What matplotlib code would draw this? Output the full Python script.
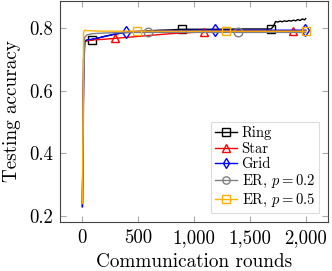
import matplotlib
matplotlib.use("Agg")
import matplotlib.pyplot as plt
from matplotlib.ticker import FuncFormatter

# --- Data ---
rounds = [0, 10, 20, 40, 90, 190, 290, 390, 490, 590, 690, 790, 890, 990,
          1090, 1190, 1290, 1390, 1490, 1590, 1690, 1790, 1890, 1990, 2000]

ring_rounds = [0, 10, 20, 40, 90, 190, 290, 390, 490, 590, 690, 790, 890, 990,
               1090, 1190, 1290, 1390, 1490, 1590, 1690, 1710, 1730, 1750, 1770,
               1790, 1810, 1830, 1850, 1870, 1890, 1910, 1930, 1950, 1970, 1990, 2000]
ring = [0.23, 0.70, 0.755, 0.760, 0.762, 0.773, 0.780, 0.786, 0.789, 0.791,
        0.793, 0.794, 0.796, 0.796, 0.796, 0.796, 0.796, 0.797, 0.797, 0.797,
        0.797, 0.805, 0.821, 0.819, 0.822, 0.820, 0.823, 0.821, 0.824, 0.822,
        0.825, 0.823, 0.827, 0.824, 0.829, 0.826, 0.830]
star = [0.23, 0.62, 0.755, 0.760, 0.762, 0.764, 0.767, 0.770, 0.773, 0.776,
        0.779, 0.782, 0.784, 0.786, 0.787, 0.788, 0.789, 0.790, 0.790, 0.790,
        0.791, 0.791, 0.791, 0.791, 0.791]
grid = [0.23, 0.65, 0.758, 0.762, 0.765, 0.772, 0.781, 0.787, 0.789, 0.790,
        0.791, 0.792, 0.792, 0.793, 0.793, 0.793, 0.793, 0.793, 0.793, 0.793,
        0.793, 0.793, 0.793, 0.793, 0.793]
er02 = [0.24, 0.55, 0.770, 0.778, 0.782, 0.784, 0.785, 0.785, 0.786, 0.786,
        0.786, 0.786, 0.786, 0.786, 0.786, 0.786, 0.786, 0.786, 0.786, 0.786,
        0.786, 0.786, 0.786, 0.786, 0.786]
er05 = [0.24, 0.785, 0.793, 0.792, 0.791, 0.790, 0.790, 0.790, 0.790, 0.790,
        0.790, 0.790, 0.790, 0.790, 0.790, 0.790, 0.790, 0.790, 0.790, 0.790,
        0.790, 0.790, 0.790, 0.790, 0.790]

# --- Style ---
plt.rcParams['font.family'] = ['cmr10']
plt.rcParams['mathtext.fontset'] = 'cm'
plt.rcParams['axes.formatter.use_mathtext'] = True

fig = plt.figure(figsize=(3.32, 2.71), dpi=100)
ax = fig.add_axes([0.181, 0.181, 0.807, 0.815])

ms = 6.2
ax.plot(ring_rounds, ring, color='black', lw=1, marker='s', ms=ms, mfc='none',
        mew=1, markevery=[4, 12, 20], label='Ring')
ax.plot(rounds, star, color='red', lw=1, marker='^', ms=ms, mfc='none',
        mew=1, markevery=(6, 8), label='Star')
ax.plot(rounds, grid, color='blue', lw=1, marker='d', ms=ms, mfc='none',
        mew=1, markevery=(7, 8), label='Grid')
ax.plot(rounds, er02, color='gray', lw=1, marker='o', ms=ms, mfc='none',
        mew=1, markevery=(9, 8), label='ER, $p = 0.2$')
ax.plot(rounds, er05, color='#FFB000', lw=1, marker='s', ms=ms, mfc='none',
        mew=1, markevery=(8, 8), label='ER, $p = 0.5$')

ax.set_xlim(-200, 2200)
ax.set_ylim(0.181, 0.886)
ax.set_xticks([0, 500, 1000, 1500, 2000])
ax.set_yticks([0.2, 0.4, 0.6, 0.8])
ax.xaxis.set_major_formatter(FuncFormatter(lambda v, p: f"{int(v):,}"))
ax.yaxis.set_major_formatter(FuncFormatter(lambda v, p: f"{v:.1f}"))
ax.tick_params(direction='in', length=4, color='#aaaaaa', top=True, right=True,
               labelsize=13.5, pad=5)
for s in ax.spines.values():
    s.set_color('#444444')
    s.set_linewidth(0.8)

ax.set_xlabel("Communication rounds", fontsize=13.8, labelpad=4.5)
ax.set_ylabel("Testing accuracy", fontsize=13.8, labelpad=6)

leg = ax.legend(loc='lower right', fontsize=10.5, fancybox=False, framealpha=1,
                edgecolor='#dddddd', handlelength=1.5, handletextpad=0.3,
                borderpad=0.3, labelspacing=0.12, borderaxespad=0.6,
                markerscale=0.85)
leg.get_frame().set_linewidth(0.8)

fig.savefig("out.png", dpi=100)
